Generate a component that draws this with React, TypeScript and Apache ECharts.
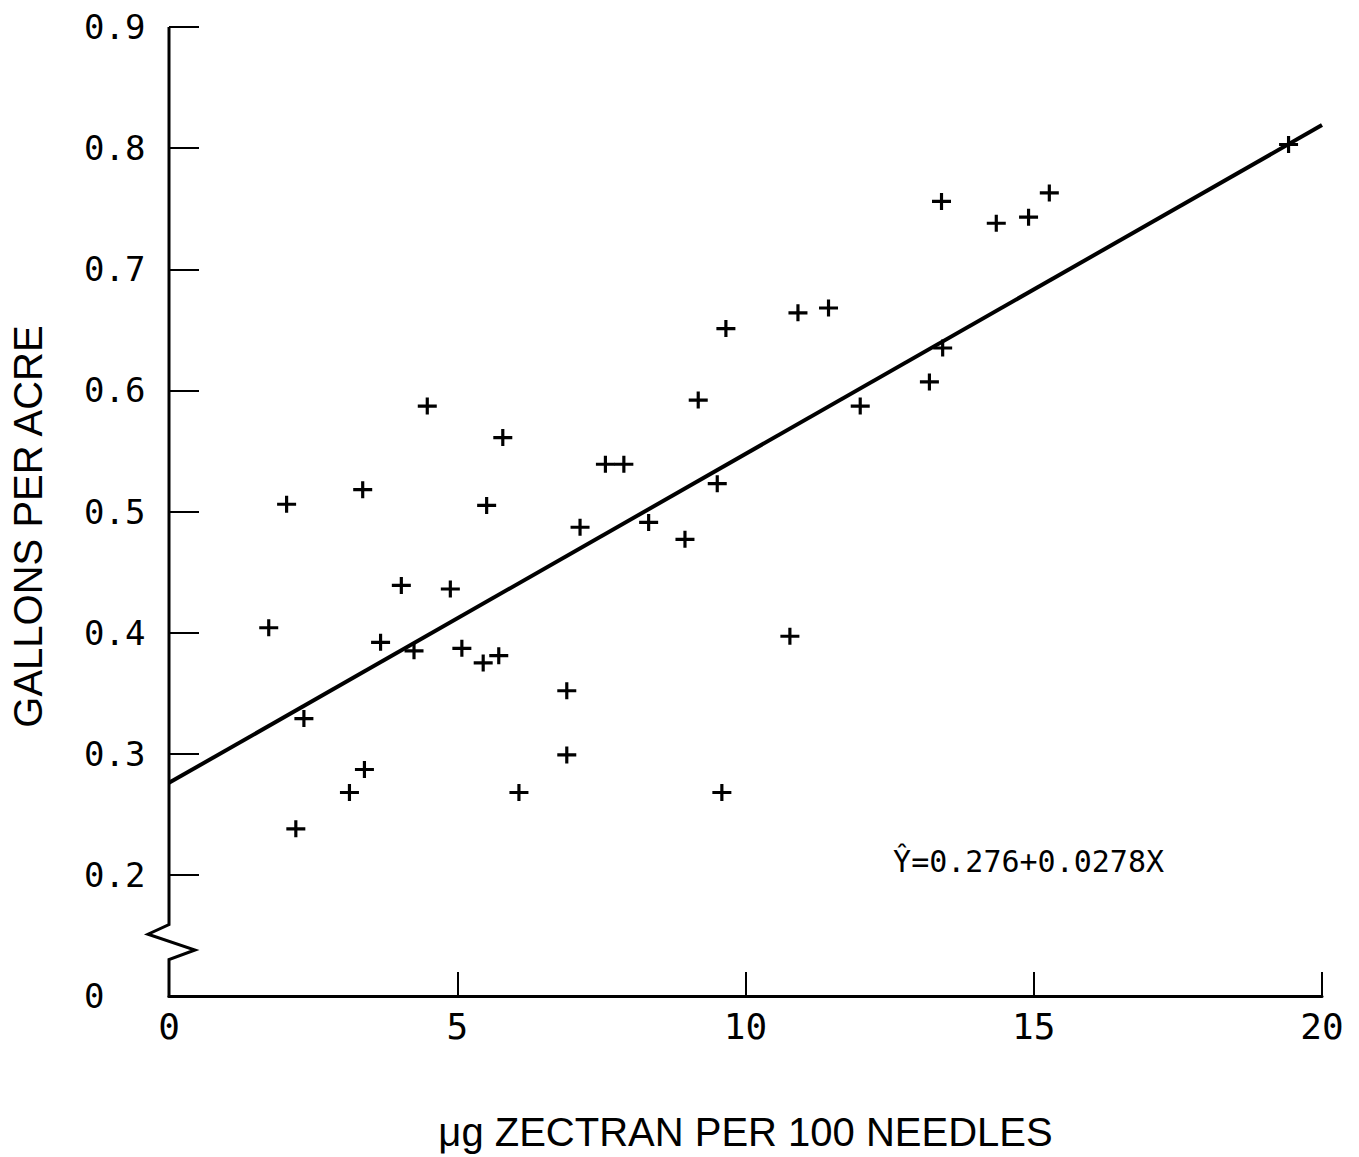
import React, { useEffect, useRef } from 'react';
import * as echarts from 'echarts';

// Scatter observations (µg Zectran per 100 needles, gallons per acre)
const pointsX = [
  1.73, 2.04, 2.20, 2.34, 3.13, 3.39, 3.36, 3.67, 4.03, 4.25, 4.48, 4.88, 5.08, 5.45,
  5.51, 5.72, 5.79, 6.07, 6.90, 6.90, 7.13, 7.57, 7.89, 8.32, 8.95, 9.18, 9.51, 9.59,
  9.66, 10.77, 10.91, 11.44, 11.99, 13.19, 13.42, 13.40, 14.35, 14.91, 15.27, 19.42,
];
const pointsY = [
  0.404, 0.506, 0.238, 0.329, 0.268, 0.287, 0.518, 0.392, 0.439, 0.385, 0.587, 0.436, 0.387, 0.375,
  0.505, 0.381, 0.561, 0.268, 0.352, 0.299, 0.487, 0.539, 0.539, 0.491, 0.477, 0.592, 0.523, 0.268,
  0.651, 0.397, 0.664, 0.668, 0.587, 0.607, 0.635, 0.756, 0.738, 0.743, 0.763, 0.803,
];

// Fitted regression line end points
const fitX = [0, 20];
const fitY = [0.276, 0.819];

// Axis ticks (the 0.1 position carries the broken-axis "0")
const yTickValues = [0.1, 0.2, 0.3, 0.4, 0.5, 0.6, 0.7, 0.8, 0.9];
const yTickLabels = ['0', '0.2', '0.3', '0.4', '0.5', '0.6', '0.7', '0.8', '0.9'];

const xAxisTitle = 'μg ZECTRAN PER 100 NEEDLES';
const yAxisTitle = 'GALLONS PER ACRE';
const equationText = 'Ŷ=0.276+0.0278X';
const equationAt = [12.56, 0.211];

const plusSymbol =
  'path://M0,6.5 L18,6.5 L18,9.5 L0,9.5 Z M7.5,0 L10.5,0 L10.5,16 L7.5,16 Z';

const MONO = '"DejaVu Sans Mono", monospace';
const SANS = '"Liberation Sans", Arial, sans-serif';

export default function App() {
  const ref = useRef<HTMLDivElement>(null);

  useEffect(() => {
    if (!ref.current) return;
    const chart = echarts.init(ref.current, null, { renderer: 'svg' });

    const scatterData = pointsX.map((x, i) => [x, pointsY[i]]);
    const lineData = fitX.map((x, i) => [x, fitY[i]]);

    chart.setOption({
      animation: false,
      backgroundColor: '#ffffff',
      grid: { left: 168, right: 37, top: 27, bottom: 156, containLabel: false },
      xAxis: {
        type: 'value',
        min: 0,
        max: 20,
        interval: 5,
        splitLine: { show: false },
        axisLine: { onZero: false, lineStyle: { color: '#000', width: 3 } },
        axisTick: { inside: true, length: 24, lineStyle: { color: '#000', width: 2 } },
        axisLabel: { color: '#000', fontFamily: MONO, fontSize: 36, margin: 12 },
        name: xAxisTitle,
        nameLocation: 'middle',
        nameGap: 116,
        nameTextStyle: { color: '#000', fontFamily: SANS, fontSize: 40 },
      },
      yAxis: {
        type: 'value',
        min: 0.1,
        max: 0.9,
        interval: 0.1,
        splitLine: { show: false },
        axisLine: { show: false, onZero: false },
        axisTick: { show: true, inside: true, length: 30, lineStyle: { color: '#000', width: 2 } },
        axisLabel: {
          color: '#000',
          fontFamily: MONO,
          fontSize: 34,
          margin: 85,
          align: 'left',
          formatter: (v: number) => {
            const idx = yTickValues.findIndex((t) => Math.abs(t - v) < 1e-6);
            return idx >= 0 ? yTickLabels[idx] : '';
          },
        },
        name: yAxisTitle,
        nameLocation: 'middle',
        nameGap: 121,
        nameTextStyle: { color: '#000', fontFamily: SANS, fontSize: 40, padding: [0, 30, 0, 0] },
      },
      series: [
        {
          type: 'line',
          data: lineData,
          symbol: 'none',
          lineStyle: { color: '#000', width: 4 },
          silent: true,
        },
        {
          type: 'scatter',
          data: scatterData,
          symbol: plusSymbol,
          symbolSize: [19, 17],
          itemStyle: { color: '#000', opacity: 1 },
        },
      ],
    });

    const p = (x: number, y: number) => chart.convertToPixel({ gridIndex: 0 }, [x, y]) as number[];
    const top = p(0, 0.9);
    const bTop = p(0, 0.159);
    const bL = p(0, 0.151);
    const bR = p(0, 0.138);
    const bBot = p(0, 0.13);
    const bottom = p(0, 0.1);
    const eq = p(equationAt[0], equationAt[1]);

    chart.setOption({
      graphic: [
        {
          type: 'polyline',
          shape: {
            points: [top, bTop, [bL[0] - 21, bL[1]], [bR[0] + 26, bR[1]], bBot, [bottom[0], bottom[1] + 1.5]],
          },
          style: { stroke: '#000', lineWidth: 3, fill: null, lineJoin: 'miter' },
          silent: true,
        },
        {
          type: 'text',
          x: eq[0],
          y: eq[1],
          style: {
            text: equationText,
            fill: '#000',
            font: `30px ${MONO}`,
            align: 'left',
            verticalAlign: 'middle',
          },
          silent: true,
        },
      ],
    });

    return () => chart.dispose();
  }, []);

  return (
    <div
      ref={ref}
      style={{ position: 'fixed', left: 0, top: 0, width: 1359, height: 1157, background: '#fff' }}
    />
  );
}
